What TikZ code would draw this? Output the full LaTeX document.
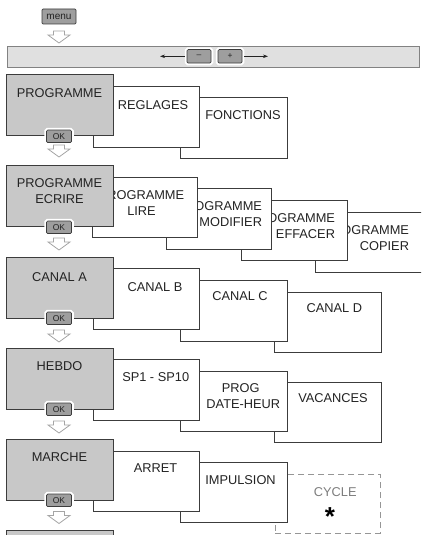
\documentclass[tikz,border=0pt]{standalone}
\usepackage{fontspec}
\setmainfont{Liberation Sans}
\usetikzlibrary{arrows.meta}
\definecolor{boxline}{RGB}{60,60,60}
\definecolor{mainfill}{RGB}{200,200,200}
\definecolor{barfill}{RGB}{224,224,224}
\definecolor{bargray}{RGB}{130,130,130}
\definecolor{btnfill}{RGB}{158,158,158}
\definecolor{arrowgray}{RGB}{165,165,165}
\definecolor{txt}{RGB}{35,35,35}
\definecolor{cyclegray}{RGB}{150,150,150}
\definecolor{cycletxt}{RGB}{125,125,125}
\begin{document}
\begin{tikzpicture}[x=1pt,y=-1pt,
 every node/.style={inner sep=0pt,outer sep=0pt},
 mainbox/.style={draw=boxline,fill=mainfill,line width=0.9pt,anchor=north west,minimum width=107pt,minimum height=61pt},
 subbox/.style={draw=boxline,fill=white,line width=0.9pt,anchor=north west,minimum height=61pt},
 cyclebox/.style={draw=cyclegray,dash pattern=on 6pt off 4pt,line width=0.9pt,anchor=north west,minimum height=59pt,minimum width=105pt},
 lbl/.style={font=\fontsize{12.8}{15}\selectfont,text=txt},
 btn/.style={draw=boxline,fill=btnfill,line width=0.7pt,rounded corners=1.2pt,font=\fontsize{8.5}{9}\selectfont,text=txt,minimum height=12.5pt,minimum width=25pt,preaction={draw=white,line width=4.5pt}},
 downarr/.style={draw=arrowgray,fill=white,line width=0.8pt,line join=miter},
 barline/.style={draw=txt,line width=0.6pt,shorten <=2pt,-{Stealth[length=5pt,width=3.5pt]}}
]
\newcommand\hollowdown[1]{\draw[downarr] (#1) ++(-5.5,-6) -- ++(11,0) -- ++(0,4) -- ++(5.5,0) -- ++(-11,8) -- ++(-11,-8) -- ++(5.5,0) -- cycle;}
\useasboundingbox (0,0) rectangle (421,535);
\clip (0,0) rectangle (421,535);

% menu and bar
\node[btn,minimum width=34pt,minimum height=15pt,font=\fontsize{10}{11}\selectfont] (menu) at (59,16.5) {menu};
\coordinate (dm) at (59,37);
\hollowdown{dm}
\node[draw=bargray,fill=barfill,line width=0.7pt,anchor=north west,minimum width=412pt,minimum height=21pt] (bar) at (7,46) {};
\coordinate (larr) at (160,56.3);
\coordinate (rarr) at (268,56.3);
\node[btn,minimum width=24pt,minimum height=13.5pt] (minus) at (199,56.3) {--};
\node[btn,minimum width=24pt,minimum height=13.5pt] (plus) at (230,56.3) {+};
\draw[barline] (minus) -- (larr);
\draw[barline] (plus) -- (rarr);

% row 1
\node[subbox,minimum width=107pt] (fonc) at (180,97) {};
\node[lbl] (foncT) at (243,115) {FONCTIONS};
\node[subbox,minimum width=106pt] (regl) at (93,86) {};
\node[lbl] (reglT) at (153,105) {REGLAGES};
\node[mainbox] (prog) at (6,74) {};
\node[lbl] (progT) at (59.5,93) {PROGRAMME};
\node[btn] (ok1) at (59,136.3) {OK};
\coordinate (d1) at (59,151);
\hollowdown{d1}

% row 2
\node[subbox,minimum width=115pt,minimum height=60pt] (copi) at (315,212) {};
\node[lbl,anchor=east] (copiT1) at (409,230) {PROGRAMME};
\node[lbl,anchor=east] (copiT2) at (409,246) {COPIER};
\node[subbox,minimum width=106pt,minimum height=60pt] (effa) at (241,200) {};
\node[lbl,anchor=east] (effaT1) at (335,218) {PROGRAMME};
\node[lbl,anchor=east] (effaT2) at (335,234) {EFFACER};
\node[subbox,minimum width=105pt] (modi) at (166,188) {};
\node[lbl,anchor=east] (modiT1) at (262,206) {PROGRAMME};
\node[lbl,anchor=east] (modiT2) at (262,222) {MODIFIER};
\node[subbox,minimum width=105pt,minimum height=60pt] (lire) at (92,177) {};
\node[lbl] (lireT1) at (141.5,195) {PROGRAMME};
\node[lbl] (lireT2) at (141.5,211) {LIRE};
\node[mainbox] (ecri) at (6,165) {};
\node[lbl] (ecriT1) at (59.5,183) {PROGRAMME};
\node[lbl] (ecriT2) at (59.5,199) {ECRIRE};
\node[btn] (ok2) at (59,227.3) {OK};
\coordinate (d2) at (59,244);
\hollowdown{d2}

% row 3
\node[subbox,minimum width=107pt,minimum height=60pt] (canD) at (274,292) {};
\node[lbl] (canDT) at (334.3,308.3) {CANAL D};
\node[subbox,minimum width=107pt] (canC) at (180,280) {};
\node[lbl] (canCT) at (240,296) {CANAL C};
\node[subbox,minimum width=106pt] (canB) at (93,268) {};
\node[lbl] (canBT) at (155,287.3) {CANAL B};
\node[mainbox] (canA) at (6,257) {};
\node[lbl] (canAT) at (59.5,276.7) {CANAL A};
\node[btn] (ok3) at (59,318.3) {OK};
\coordinate (d3) at (59,336);
\hollowdown{d3}

% row 4
\node[subbox,minimum width=107pt,minimum height=60pt] (vaca) at (274,382) {};
\node[lbl] (vacaT) at (333,398.3) {VACANCES};
\node[subbox,minimum width=107pt,minimum height=60pt] (prdh) at (180,371) {};
\node[lbl] (prdhT1) at (240.8,388.3) {PROG};
\node[lbl] (prdhT2) at (243.3,404) {DATE-HEUR};
\node[subbox,minimum width=106pt] (sp) at (93,359) {};
\node[lbl] (spT) at (155.7,377.3) {SP1 - SP10};
\node[mainbox] (hebd) at (6,348) {};
\node[lbl] (hebdT) at (59.5,366) {HEBDO};
\node[btn] (ok4) at (59,409.3) {OK};
\coordinate (d4) at (59,427);
\hollowdown{d4}

% row 5
\node[cyclebox] (cycl) at (275,474) {};
\node[font=\fontsize{12.8}{15}\selectfont,text=cycletxt] (cyclT) at (335.3,491.7) {CYCLE};
\node[font=\bfseries\fontsize{26}{26}\selectfont,text=black,anchor=north] (star) at (330,508) {*};
\node[subbox,minimum width=107pt,minimum height=60pt] (impu) at (180,462) {};
\node[lbl] (impuT) at (240.5,480) {IMPULSION};
\node[subbox,minimum width=106pt,minimum height=60pt] (arre) at (93,451) {};
\node[lbl] (arreT) at (155.5,468.3) {ARRET};
\node[mainbox] (marc) at (6,439) {};
\node[lbl] (marcT) at (59.5,457.3) {MARCHE};
\node[btn] (ok5) at (59,500.3) {OK};
\coordinate (d5) at (59,517.5);
\hollowdown{d5}

% row 6 (cut)
\node[mainbox] (next) at (6,530) {};
\end{tikzpicture}
\end{document}
